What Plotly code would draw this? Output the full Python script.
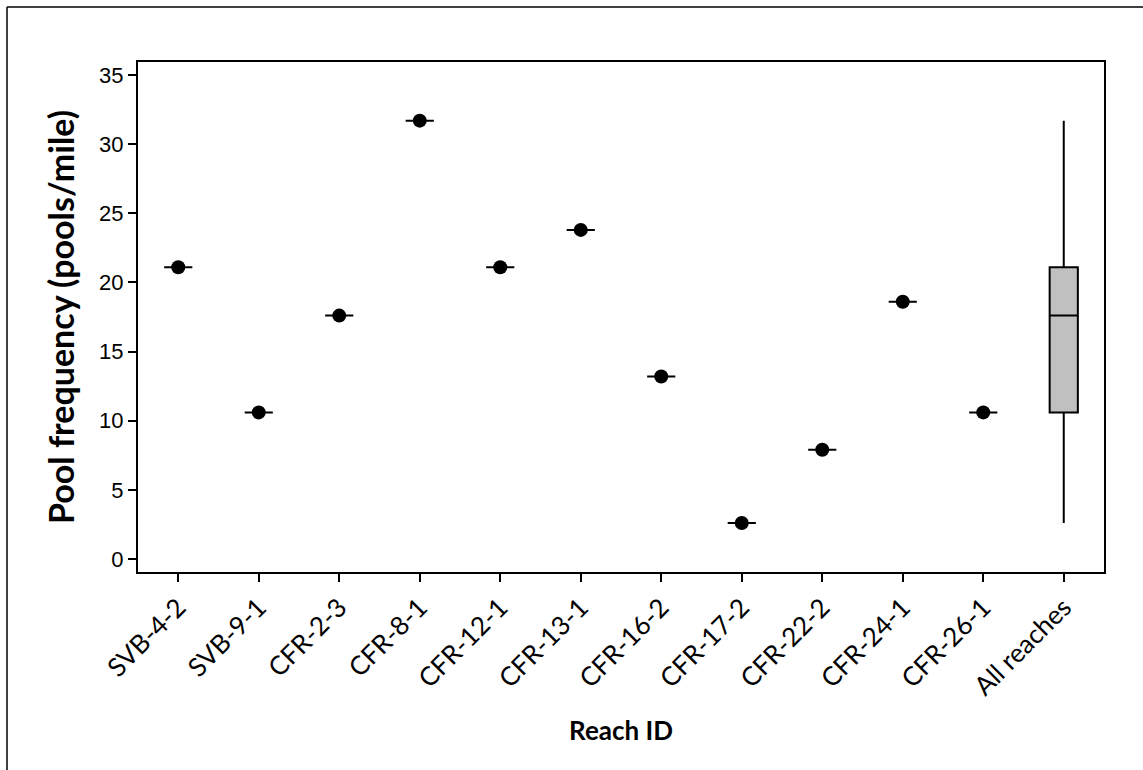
import plotly.graph_objects as go

reaches = ["SVB-4-2", "SVB-9-1", "CFR-2-3", "CFR-8-1", "CFR-12-1", "CFR-13-1",
           "CFR-16-2", "CFR-17-2", "CFR-22-2", "CFR-24-1", "CFR-26-1"]
pool_freq = [21.1, 10.6, 17.6, 31.7, 21.1, 23.8, 13.2, 2.6, 7.9, 18.6, 10.6]
all_label = "All reaches"
y_ticks = [0, 5, 10, 15, 20, 25, 30, 35]

categories = reaches + [all_label]

fig = go.Figure()

# per-reach single-value "boxes" (drawn as short horizontal lines) + overall box
fig.add_trace(go.Box(
    x=reaches + [all_label] * len(pool_freq),
    y=pool_freq + pool_freq,
    quartilemethod="linear",
    boxpoints=False,
    width=0.35,
    whiskerwidth=0,
    fillcolor="#c0c0c0",
    line=dict(color="black", width=2),
    showlegend=False,
    hoverinfo="skip",
))

fig.add_trace(go.Scatter(
    x=reaches, y=pool_freq, mode="markers",
    marker=dict(color="black", size=14, line=dict(width=0)),
    showlegend=False,
))

fig.update_layout(
    width=1143, height=770,
    margin=dict(l=138, r=39, t=62, b=198),
    paper_bgcolor="white", plot_bgcolor="white",
    font=dict(family="Lato, Liberation Sans, sans-serif", color="black"),
    shapes=[
        dict(type="line", xref="paper", yref="paper",
             x0=(7 - 138) / 966, x1=(1150 - 138) / 966,
             y0=(572 - 7) / 510, y1=(572 - 7) / 510,
             line=dict(color="black", width=1.5)),
        dict(type="line", xref="paper", yref="paper",
             x0=(7 - 138) / 966, x1=(7 - 138) / 966,
             y0=(572 - 7) / 510, y1=(572 - 775) / 510,
             line=dict(color="black", width=1.5)),
    ],
)

fig.update_xaxes(
    type="category", categoryorder="array", categoryarray=categories,
    range=[-0.5, len(categories) - 0.5],
    showline=True, mirror=True, linecolor="black", linewidth=2,
    ticks="outside", ticklen=8, tickwidth=2, tickcolor="black",
    tickangle=-45, tickfont=dict(family="Lato", size=26, color="black"),
    showgrid=False, zeroline=False,
    title=dict(text="<b>Reach ID</b>", font=dict(family="Lato", size=26), standoff=22),
)
fig.update_yaxes(
    range=[-0.94, 35.94], tickvals=y_ticks,
    showline=True, mirror=True, linecolor="black", linewidth=2,
    ticks="outside", ticklen=8, tickwidth=2, tickcolor="black",
    tickfont=dict(family="Liberation Sans", size=22, color="black"),
    showgrid=False, zeroline=False,
    title=dict(text="<b>Pool frequency (pools/mile)</b>", font=dict(family="Lato", size=34), standoff=14),
)

fig.write_html("out.html")
